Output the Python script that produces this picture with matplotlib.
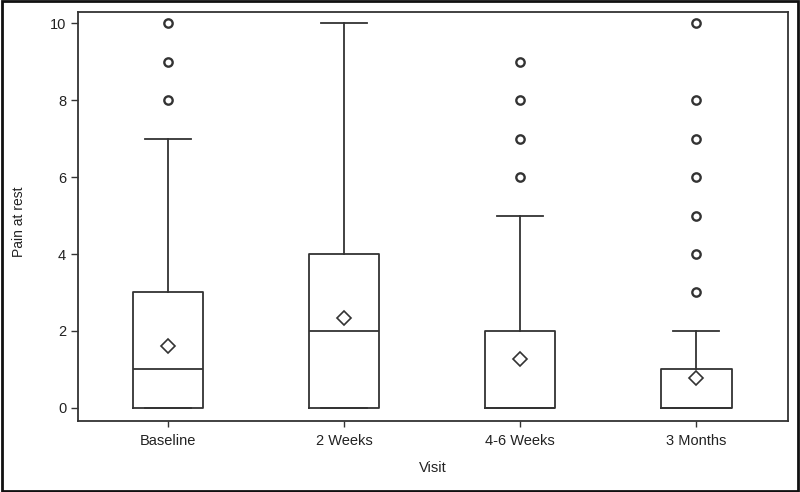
import numpy as np
import matplotlib.pyplot as plt
from matplotlib.patches import Rectangle

plt.rcParams['font.family'] = ['Liberation Sans', 'DejaVu Sans']

visits = ['Baseline', '2 Weeks', '4-6 Weeks', '3 Months']
q1 = [0, 0, 0, 0]
medians = [1, 2, 0, 0]
q3 = [3, 4, 2, 1]
whis_lo = [0, 0, 0, 0]
whis_hi = [7, 10, 5, 2]
means = [1.62, 2.34, 1.27, 0.77]
outliers = [[8, 9, 10], [], [6, 7, 8, 9], [3, 4, 5, 6, 7, 8, 10]]

stats = []
for i in range(len(visits)):
    stats.append({'label': visits[i], 'q1': q1[i], 'med': medians[i], 'q3': q3[i],
                  'whislo': whis_lo[i], 'whishi': whis_hi[i], 'mean': means[i],
                  'fliers': outliers[i]})

col = '#333333'
fig = plt.figure(figsize=(8, 4.92), dpi=100)
ax = fig.add_axes([78/800, 1 - 421/492, 710/800, 409/492])

ax.bxp(stats, positions=range(len(visits)), widths=0.4, showmeans=True,
       boxprops=dict(color=col, linewidth=1.3),
       medianprops=dict(color=col, linewidth=1.3),
       whiskerprops=dict(color=col, linewidth=1.3),
       capprops=dict(color=col, linewidth=1.3),
       capwidths=0.26,
       meanprops=dict(marker='D', markerfacecolor='white', markeredgecolor=col,
                      markersize=7, markeredgewidth=1.2),
       flierprops=dict(marker='o', markerfacecolor='white', markeredgecolor=col,
                       markersize=6, markeredgewidth=1.7))

ax.set_xlim(-0.51, 3.52)
ax.set_ylim(-0.34, 10.29)
ax.set_yticks([0, 2, 4, 6, 8, 10])
ax.set_xticks(range(len(visits)))
ax.set_xticklabels(visits)
ax.tick_params(colors=col, labelcolor='#222222', labelsize=10.5, length=5, width=1)
ax.tick_params(axis='x', pad=5.5, length=4)
for s in ax.spines.values():
    s.set_color(col)
    s.set_linewidth(1.3)
ax.set_xlabel('Visit', fontsize=10.5, color='#222222', labelpad=9)
ax.set_ylabel('Pain at rest', fontsize=10, color='#222222')
ax.yaxis.set_label_coords(-0.073, 0.487)

# frame around the whole picture
fig.patches.append(Rectangle((0.002, 0.003), 0.996, 0.994, transform=fig.transFigure,
                             fill=False, edgecolor='#111111', linewidth=2))

fig.savefig('out.png', dpi=100)
